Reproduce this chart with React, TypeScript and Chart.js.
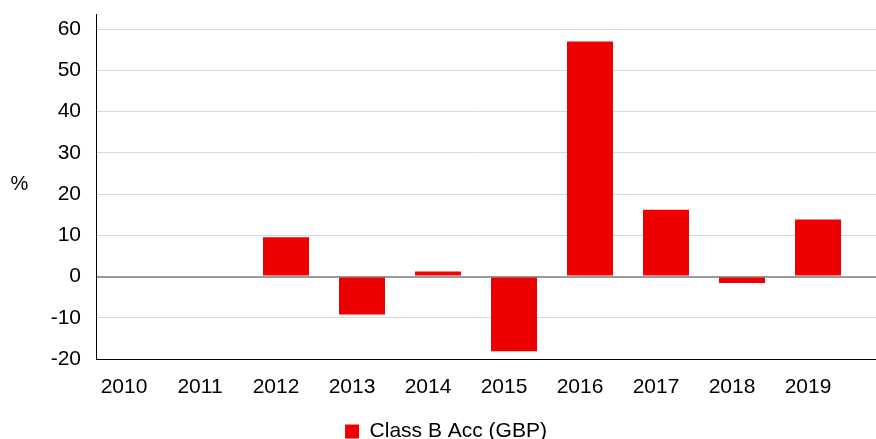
import React, { useEffect, useRef } from "react";
import { Chart, registerables } from "chart.js";

Chart.register(...registerables);

const categories = ["2010", "2011", "2012", "2013", "2014", "2015", "2016", "2017", "2018", "2019"];
const classBAcc = [null, null, 9.5, -9.2, 1.2, -18.1, 57.0, 16.2, -1.6, 13.8];
const seriesLabel = "Class B Acc (GBP)";
const yTicks = [-20, -10, 0, 10, 20, 30, 40, 50, 60];
const yAxisTitle = "%";

const FONT = '"Liberation Sans", Arial, sans-serif';

const alignPx = (p: number, w: number) => Math.round(p - w / 2) + w / 2;

const gridStyle = (v: number) => {
  if (v === 0) return { color: "#999999", width: 2 };
  if (v === yTicks[0]) return { color: "#000000", width: 1 };
  return { color: "#d9d9d9", width: 1 };
};

const extendGrid = {
  id: "extendGrid",
  beforeDatasetsDraw(chart: any) {
    const ctx = chart.ctx;
    const y = chart.scales.y;
    const x0 = chart.chartArea.right;
    const x1 = chart.width;
    ctx.save();
    yTicks.forEach((v) => {
      const s = gridStyle(v);
      const py = alignPx(y.getPixelForValue(v), s.width);
      ctx.strokeStyle = s.color;
      ctx.lineWidth = s.width;
      ctx.beginPath();
      ctx.moveTo(x0, py);
      ctx.lineTo(x1, py);
      ctx.stroke();
    });
    ctx.restore();
  },
};

const percentLabel = {
  id: "percentLabel",
  afterDraw(chart: any) {
    const ctx = chart.ctx;
    ctx.save();
    ctx.font = `20px ${FONT}`;
    ctx.fillStyle = "#000";
    ctx.textAlign = "center";
    ctx.textBaseline = "middle";
    ctx.fillText(yAxisTitle, 19.5, 184);
    ctx.restore();
  },
};

export default function App() {
  const ref = useRef<HTMLCanvasElement>(null);
  useEffect(() => {
    if (!ref.current) return;
    const chart = new Chart(ref.current, {
      type: "bar",
      data: {
        labels: categories,
        datasets: [
          {
            label: seriesLabel,
            data: classBAcc as any,
            backgroundColor: "#EE0000",
            borderWidth: 0,
            barPercentage: 0.605,
            categoryPercentage: 1,
          },
        ],
      },
      options: {
        animation: false,
        responsive: true,
        maintainAspectRatio: false,
        layout: { padding: { left: 16, right: 0, top: 14, bottom: 0 } },
        plugins: {
          tooltip: { enabled: false },
          legend: {
            position: "bottom",
            labels: {
              boxWidth: 14,
              boxHeight: 14,
              padding: 10,
              color: "#000",
              font: { family: FONT, size: 21 },
            },
          },
        },
        scales: {
          x: {
            grid: { display: false, drawTicks: false },
            border: { display: true, color: "#000", width: 1 },
            ticks: {
              color: "#000",
              font: { family: FONT, size: 21 },
              padding: 16,
              labelOffset: -10,
              maxRotation: 0,
              autoSkip: false,
            },
            afterFit(s: any) {
              s.height = 52;
              s.paddingLeft = 0;
              s.paddingRight = 0;
            },
          },
          y: {
            min: -20,
            max: 63.64,
            afterBuildTicks(s: any) {
              s.ticks = yTicks.map((v) => ({ value: v }));
            },
            grid: {
              drawTicks: false,
              color: (c: any) => (c.tick ? gridStyle(c.tick.value).color : "#d9d9d9"),
              lineWidth: (c: any) => (c.tick ? gridStyle(c.tick.value).width : 1),
            },
            border: { display: true, color: "#000", width: 1 },
            ticks: {
              color: "#000",
              font: { family: FONT, size: 21 },
              padding: 15,
            },
            afterFit(s: any) {
              s.width = 80;
              s.paddingTop = 0;
              s.paddingBottom = 0;
            },
          },
          y2: {
            position: "right",
            display: true,
            grid: { display: false, drawOnChartArea: false, drawTicks: false },
            border: { display: false },
            ticks: { display: false },
            afterFit(s: any) {
              s.width = 20;
              s.paddingTop = 0;
              s.paddingBottom = 0;
            },
          },
        },
      },
      plugins: [extendGrid, percentLabel],
    } as any);
    return () => chart.destroy();
  }, []);

  return (
    <div style={{ position: "absolute", left: 0, top: 0, width: 876, height: 439, overflow: "hidden", background: "#fff" }}>
      <div style={{ position: "relative", width: 876, height: 452 }}>
        <canvas ref={ref} />
      </div>
    </div>
  );
}
